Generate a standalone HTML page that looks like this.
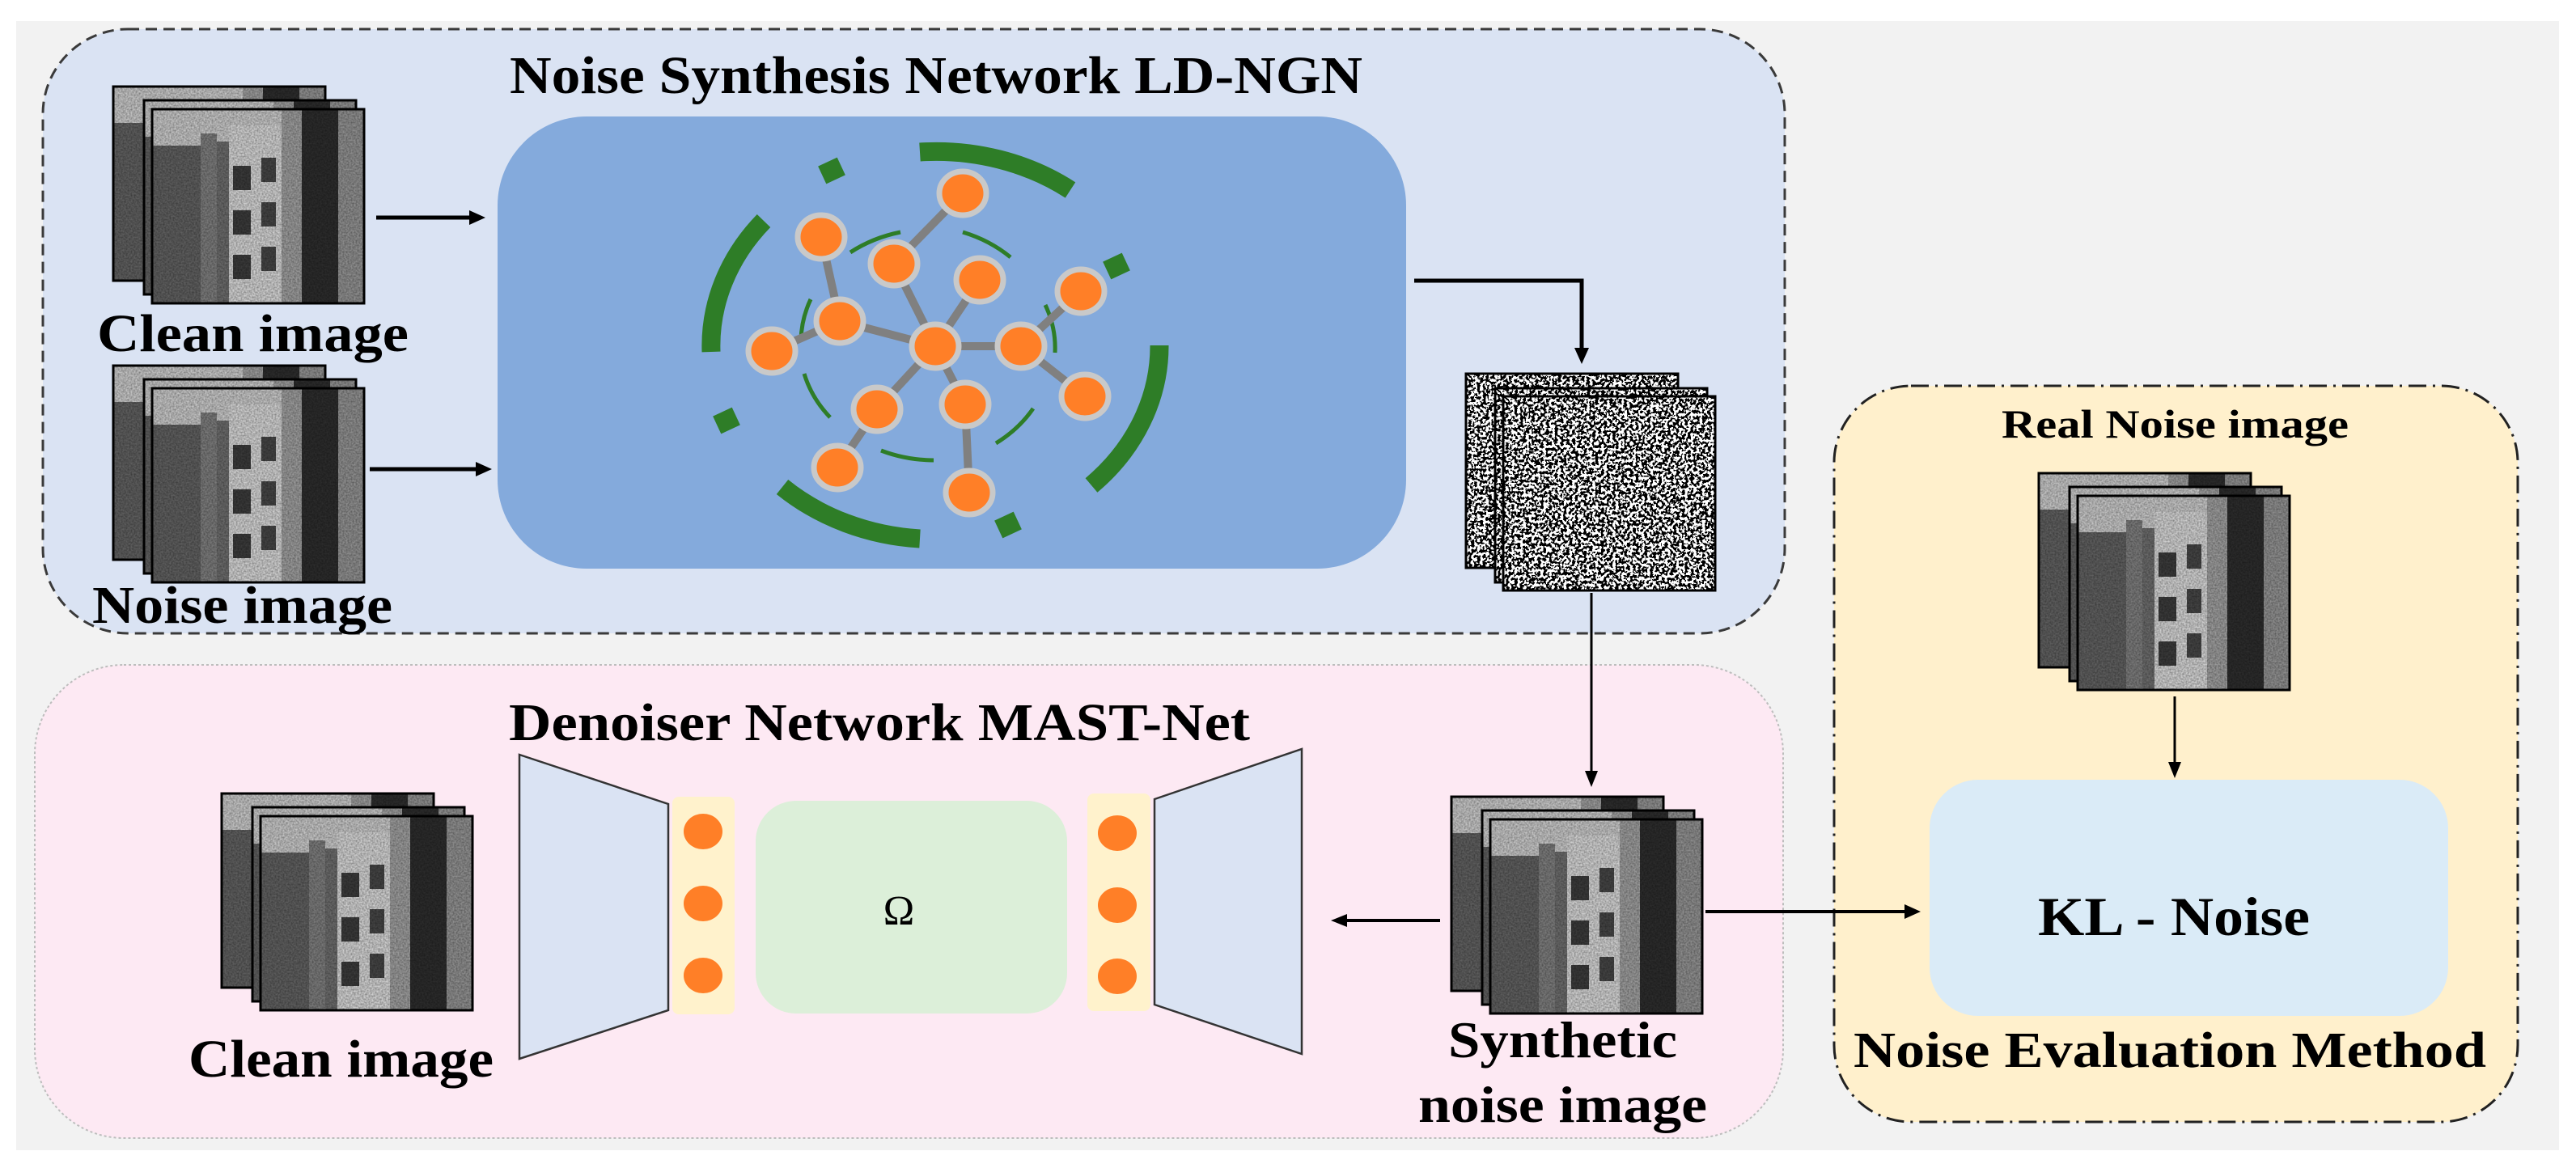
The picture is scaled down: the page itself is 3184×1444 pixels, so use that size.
<!DOCTYPE html>
<html><head><meta charset="utf-8"><style>html,body{margin:0;padding:0;background:#fff}svg{display:block}text{font-family:"Liberation Serif","Times New Roman",serif}</style></head>
<body>
<svg width="3184" height="1444" viewBox="0 0 3184 1444" xmlns="http://www.w3.org/2000/svg">
<defs>
  <filter id="grain" x="0" y="0" width="100%" height="100%">
    <feTurbulence type="fractalNoise" baseFrequency="0.5" numOctaves="2" seed="3" result="t"/>
    <feColorMatrix in="t" type="matrix" values="0 0 0 0 0  0 0 0 0 0  0 0 0 0 0  0 0 0 -1.2 0.9"/>
  </filter>
  <filter id="bw" x="0" y="0" width="100%" height="100%">
    <feTurbulence type="fractalNoise" baseFrequency="0.28" numOctaves="2" seed="7"/>
    <feColorMatrix type="saturate" values="0"/>
    <feComponentTransfer><feFuncR type="discrete" tableValues="0 1"/><feFuncG type="discrete" tableValues="0 1"/><feFuncB type="discrete" tableValues="0 1"/><feFuncA type="linear" slope="0" intercept="1"/></feComponentTransfer>
  </filter>
  <clipPath id="fc"><rect x="0" y="0" width="262" height="240"/></clipPath>
  <g id="bld">
    <g clip-path="url(#fc)">
      <rect width="262" height="240" fill="#505050"/>
      <rect x="0" y="0" width="262" height="45" fill="#c4c4c4"/>
      <rect x="0" y="45" width="60" height="195" fill="#5e5e5e"/>
      <rect x="60" y="30" width="20" height="210" fill="#7a7a7a"/>
      <rect x="95" y="20" width="65" height="220" fill="#cfcfcf"/>
      <rect x="80" y="40" width="15" height="200" fill="#6a6a6a"/>
      <rect x="100" y="70" width="22" height="30" fill="#3a3a3a"/>
      <rect x="100" y="125" width="22" height="30" fill="#3a3a3a"/>
      <rect x="100" y="180" width="22" height="30" fill="#3a3a3a"/>
      <rect x="135" y="60" width="18" height="30" fill="#444"/>
      <rect x="135" y="115" width="18" height="30" fill="#444"/>
      <rect x="135" y="170" width="18" height="30" fill="#444"/>
      <rect x="160" y="0" width="25" height="240" fill="#9a9a9a"/>
      <rect x="185" y="0" width="45" height="240" fill="#2c2c2c"/>
      <rect x="230" y="0" width="32" height="240" fill="#8d8d8d"/>
      <rect width="262" height="240" fill="#000" filter="url(#grain)" opacity="0.5"/>
    </g>
    <rect x="0" y="0" width="262" height="240" fill="none" stroke="#000" stroke-width="3"/>
  </g>
  <g id="nz">
    <g clip-path="url(#fc)"><rect width="262" height="240" filter="url(#bw)"/></g>
    <rect x="0" y="0" width="262" height="240" fill="none" stroke="#000" stroke-width="3"/>
  </g>
  <g id="stk"><use href="#bld"/><use href="#bld" x="38" y="17"/><use href="#bld" x="48" y="28"/></g>
  <g id="stkn"><use href="#nz"/><use href="#nz" x="36" y="18"/><use href="#nz" x="46" y="28"/></g>
</defs>

<rect x="20" y="26" width="3143" height="1396" fill="#f2f2f2"/>

<!-- Top box -->
<rect x="53" y="36" width="2153" height="747" rx="105" fill="#dae3f3" stroke="#3a3a3a" stroke-width="3" stroke-dasharray="14 8"/>
<text x="630" y="115" font-weight="bold" font-size="66" textLength="1054" lengthAdjust="spacingAndGlyphs">Noise Synthesis Network LD-NGN</text>
<use href="#stk" x="140" y="107"/>
<text x="120" y="434" font-weight="bold" font-size="66" textLength="385" lengthAdjust="spacingAndGlyphs">Clean image</text>
<use href="#stk" x="140" y="452"/>
<text x="114" y="770" font-weight="bold" font-size="66" textLength="371" lengthAdjust="spacingAndGlyphs">Noise image</text>

<g stroke="#000" stroke-width="5">
  <line x1="465" y1="269" x2="585" y2="269"/>
  <line x1="457" y1="580" x2="593" y2="580"/>
</g>
<polygon points="600,269 580,260 580,278"/>
<polygon points="608,580 588,571 588,589"/>

<rect x="615" y="144" width="1123" height="559" rx="110" fill="#84aadc"/>

<!-- network -->
<g fill="none" stroke="#2e7d27" stroke-width="23">
  <path d="M1137 188 A277 240 0 0 1 1323 235"/>
  <path d="M879 435 A277 240 0 0 1 944 273"/>
  <path d="M1433 427 A277 240 0 0 1 1349 600"/>
  <path d="M1137 666 A277 240 0 0 1 967 602"/>
</g>
<g fill="none" stroke="#2e7d27" stroke-width="5">
  <path d="M1051 312 A164 141 0 0 1 1113 287"/>
  <path d="M1190 287 A164 141 0 0 1 1249 318"/>
  <path d="M1292 377 A164 141 0 0 1 1304 436"/>
  <path d="M1277 505 A164 141 0 0 1 1231 548"/>
  <path d="M1154 569 A164 141 0 0 1 1089 557"/>
  <path d="M1026 516 A164 141 0 0 1 994 462"/>
  <path d="M990 421 A164 141 0 0 1 1002 370"/>
</g>
<g fill="#2e7d27">
  <rect x="-13" y="-12" width="26" height="24" transform="translate(1028 211) rotate(-25)"/>
  <rect x="-13" y="-12" width="26" height="24" transform="translate(1380 329) rotate(-25)"/>
  <rect x="-13" y="-12" width="26" height="24" transform="translate(898 520) rotate(-25)"/>
  <rect x="-13" y="-12" width="26" height="24" transform="translate(1246 649) rotate(-25)"/>
</g>
<g stroke="#808080" stroke-width="10" stroke-linecap="round">
  <line x1="1190" y1="239" x2="1105" y2="326"/>
  <line x1="1015" y1="293" x2="1038" y2="397"/>
  <line x1="1038" y1="397" x2="954" y2="434"/>
  <line x1="1038" y1="397" x2="1156" y2="428"/>
  <line x1="1105" y1="326" x2="1156" y2="428"/>
  <line x1="1211" y1="346" x2="1156" y2="428"/>
  <line x1="1156" y1="428" x2="1262" y2="428"/>
  <line x1="1262" y1="428" x2="1336" y2="360"/>
  <line x1="1262" y1="428" x2="1341" y2="490"/>
  <line x1="1156" y1="428" x2="1084" y2="506"/>
  <line x1="1156" y1="428" x2="1193" y2="500"/>
  <line x1="1084" y1="506" x2="1035" y2="578"/>
  <line x1="1193" y1="500" x2="1198" y2="609"/>
</g>
<g fill="#ff7f27" stroke="#c9c9c9" stroke-width="7">
  <ellipse cx="1190" cy="239" rx="29" ry="27"/>
  <ellipse cx="1015" cy="293" rx="29" ry="27"/>
  <ellipse cx="1105" cy="326" rx="29" ry="27"/>
  <ellipse cx="1211" cy="346" rx="29" ry="27"/>
  <ellipse cx="1336" cy="360" rx="29" ry="27"/>
  <ellipse cx="1038" cy="397" rx="29" ry="27"/>
  <ellipse cx="954" cy="434" rx="29" ry="27"/>
  <ellipse cx="1156" cy="428" rx="29" ry="27"/>
  <ellipse cx="1262" cy="428" rx="29" ry="27"/>
  <ellipse cx="1341" cy="490" rx="29" ry="27"/>
  <ellipse cx="1084" cy="506" rx="29" ry="27"/>
  <ellipse cx="1193" cy="500" rx="29" ry="27"/>
  <ellipse cx="1035" cy="578" rx="29" ry="27"/>
  <ellipse cx="1198" cy="609" rx="29" ry="27"/>
</g>

<!-- connector to noise -->
<polyline points="1748,347 1955,347 1955,432" fill="none" stroke="#000" stroke-width="5"/>
<polygon points="1955,450 1946,430 1964,430"/>
<use href="#stkn" x="1812" y="462"/>

<!-- Pink box -->
<rect x="43" y="822" width="2161" height="585" rx="110" fill="#fde9f3" stroke="#bdbdbd" stroke-width="2" stroke-dasharray="3 3"/>
<text x="629" y="915" font-weight="bold" font-size="66" textLength="916" lengthAdjust="spacingAndGlyphs">Denoiser Network MAST-Net</text>
<use href="#stk" x="274" y="981"/>
<text x="233" y="1331" font-weight="bold" font-size="66" textLength="377" lengthAdjust="spacingAndGlyphs">Clean image</text>

<polygon points="642,933 826,994 826,1249 642,1309" fill="#dae3f3" stroke="#333" stroke-width="2.5"/>
<polygon points="1427,988 1609,926 1609,1303 1427,1242" fill="#dae3f3" stroke="#333" stroke-width="2.5"/>
<rect x="831" y="985" width="77" height="269" rx="8" fill="#fff2cc"/>
<rect x="1344" y="981" width="78" height="269" rx="8" fill="#fff2cc"/>
<g fill="#ff7f27">
  <ellipse cx="869" cy="1028" rx="24" ry="22"/>
  <ellipse cx="869" cy="1117" rx="24" ry="22"/>
  <ellipse cx="869" cy="1206" rx="24" ry="22"/>
  <ellipse cx="1381" cy="1030" rx="24" ry="22"/>
  <ellipse cx="1381" cy="1119" rx="24" ry="22"/>
  <ellipse cx="1381" cy="1207" rx="24" ry="22"/>
</g>
<rect x="934" y="990" width="385" height="263" rx="50" fill="#dcefd9"/>
<text x="1111" y="1143" font-size="52" text-anchor="middle">Ω</text>

<!-- synthetic -->
<line x1="1967" y1="733" x2="1967" y2="955" stroke="#000" stroke-width="3"/>
<polygon points="1967,973 1959,953 1975,953"/>
<use href="#stk" x="1794" y="985"/>
<text x="1790" y="1307" font-weight="bold" font-size="64" textLength="283" lengthAdjust="spacingAndGlyphs">Synthetic</text>
<text x="1753" y="1387" font-weight="bold" font-size="64" textLength="357" lengthAdjust="spacingAndGlyphs">noise image</text>
<line x1="1780" y1="1138" x2="1662" y2="1138" stroke="#000" stroke-width="4"/>
<polygon points="1645,1138 1665,1130 1665,1146"/>

<!-- Yellow box -->
<rect x="2267" y="477" width="845" height="910" rx="95" fill="#fff0cc" stroke="#222" stroke-width="3" stroke-dasharray="22 8 3 8"/>
<text x="2474" y="541" font-weight="bold" font-size="50" textLength="429" lengthAdjust="spacingAndGlyphs">Real Noise image</text>
<use href="#stk" x="2520" y="585"/>
<line x1="2688" y1="861" x2="2688" y2="945" stroke="#000" stroke-width="3"/>
<polygon points="2688,962 2680,942 2696,942"/>
<rect x="2385" y="964" width="641" height="292" rx="60" fill="#daebf7"/>
<text x="2519" y="1156" font-weight="bold" font-size="68" textLength="336" lengthAdjust="spacingAndGlyphs">KL - Noise</text>
<text x="2291" y="1319" font-weight="bold" font-size="62" textLength="782" lengthAdjust="spacingAndGlyphs">Noise Evaluation Method</text>
<line x1="2108" y1="1127" x2="2355" y2="1127" stroke="#000" stroke-width="4"/>
<polygon points="2374,1127 2354,1118 2354,1136"/>
</svg>
</body></html>
